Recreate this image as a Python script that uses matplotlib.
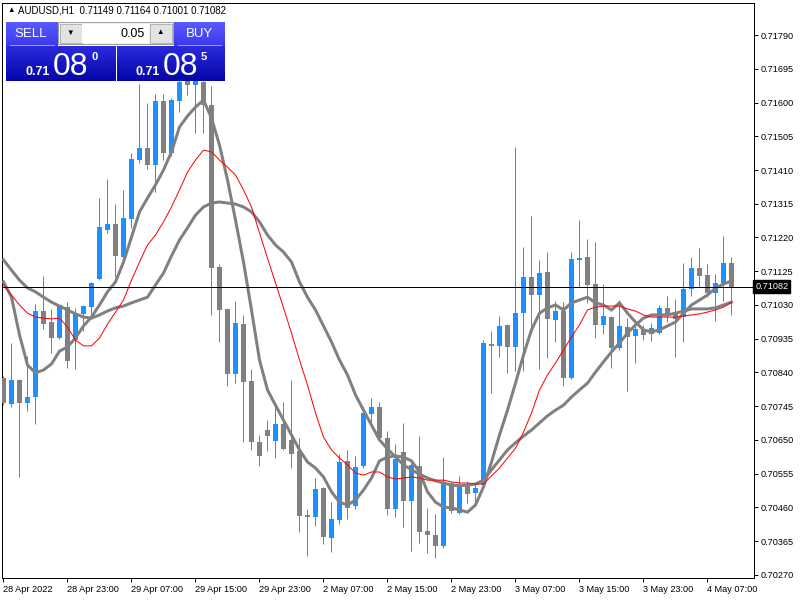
import numpy as np
import matplotlib
matplotlib.use('Agg')
import matplotlib.pyplot as plt
from matplotlib.patches import Rectangle

plt.rcParams['font.family'] = ['Liberation Sans', 'DejaVu Sans']

# AUDUSD H1 candles
opens = [0.70825, 0.70751, 0.70819, 0.70754, 0.70771, 0.71013, 0.70982, 0.70937, 0.71024, 0.70931,
         0.71005, 0.71024, 0.71103, 0.71241, 0.71258, 0.71165, 0.71272, 0.71438, 0.71472, 0.71424,
         0.71604, 0.71458, 0.71604, 0.71669, 0.71649, 0.71658, 0.71593, 0.71137, 0.71019, 0.70836,
         0.70976, 0.70816, 0.70644, 0.70678, 0.70647, 0.70695, 0.70650, 0.70619, 0.70439, 0.70433,
         0.70515, 0.70374, 0.70425, 0.70591, 0.70464, 0.70577, 0.70723, 0.70743, 0.70656, 0.70456,
         0.70616, 0.70478, 0.70577, 0.70394, 0.70383, 0.70352, 0.70529, 0.70445, 0.70521, 0.70501,
         0.70523, 0.70920, 0.70915, 0.70974, 0.70912, 0.71007, 0.71109, 0.71058, 0.71123, 0.70988,
         0.71013, 0.70825, 0.71157, 0.71165, 0.71089, 0.70974, 0.70996, 0.70909, 0.70968, 0.70943,
         0.70960, 0.70948, 0.70951, 0.71022, 0.71010, 0.70996, 0.71075, 0.71134, 0.71114, 0.71064,
         0.71092, 0.71149]
highs = [0.70830, 0.70923, 0.70821, 0.70886, 0.71033, 0.71112, 0.71019, 0.71031, 0.71038, 0.71022,
         0.71030, 0.71095, 0.71331, 0.71385, 0.71314, 0.71354, 0.71458, 0.71652, 0.71599, 0.71624,
         0.71624, 0.71613, 0.71691, 0.71691, 0.71686, 0.71686, 0.71646, 0.71145, 0.71019, 0.71041,
         0.71002, 0.70850, 0.70664, 0.70706, 0.70754, 0.70757, 0.70819, 0.70656, 0.70456, 0.70543,
         0.70518, 0.70475, 0.70611, 0.70622, 0.70605, 0.70743, 0.70768, 0.70757, 0.70675, 0.70639,
         0.70698, 0.70585, 0.70661, 0.70459, 0.70442, 0.70601, 0.70532, 0.70549, 0.70532, 0.70529,
         0.70931, 0.70957, 0.70999, 0.70976, 0.71475, 0.71193, 0.71281, 0.71157, 0.71179, 0.71041,
         0.71038, 0.71179, 0.71269, 0.71216, 0.71207, 0.71089, 0.70999, 0.71044, 0.70993, 0.70988,
         0.70974, 0.70979, 0.71030, 0.71055, 0.71047, 0.71148, 0.71165, 0.71190, 0.71145, 0.71117,
         0.71224, 0.71164]
lows = [0.70749, 0.70743, 0.70546, 0.70732, 0.70695, 0.70962, 0.70895, 0.70934, 0.70853, 0.70850,
        0.70957, 0.70996, 0.71100, 0.71233, 0.71109, 0.71157, 0.71247, 0.71430, 0.71413, 0.71348,
        0.71438, 0.71449, 0.71573, 0.71621, 0.71514, 0.71514, 0.71002, 0.70926, 0.70802, 0.70810,
        0.70644, 0.70622, 0.70577, 0.70619, 0.70599, 0.70622, 0.70571, 0.70391, 0.70323, 0.70408,
        0.70357, 0.70335, 0.70414, 0.70428, 0.70456, 0.70571, 0.70687, 0.70654, 0.70439, 0.70433,
        0.70405, 0.70338, 0.70360, 0.70332, 0.70318, 0.70346, 0.70445, 0.70442, 0.70473, 0.70467,
        0.70518, 0.70782, 0.70884, 0.70839, 0.70844, 0.70844, 0.70960, 0.70850, 0.70881, 0.70926,
        0.70802, 0.70823, 0.71081, 0.71036, 0.70937, 0.70948, 0.70853, 0.70903, 0.70788, 0.70867,
        0.70931, 0.70929, 0.70948, 0.70982, 0.70884, 0.70926, 0.71055, 0.71081, 0.71052, 0.70985,
        0.71041, 0.71001]
closes = [0.70754, 0.70819, 0.70754, 0.70771, 0.71013, 0.70976, 0.70937, 0.71030, 0.70872, 0.71007,
          0.71027, 0.71092, 0.71250, 0.71258, 0.71168, 0.71275, 0.71441, 0.71472, 0.71424, 0.71604,
          0.71458, 0.71607, 0.71658, 0.71649, 0.71660, 0.71593, 0.71134, 0.71016, 0.70836, 0.70979,
          0.70813, 0.70644, 0.70605, 0.70661, 0.70695, 0.70625, 0.70611, 0.70436, 0.70433, 0.70512,
          0.70377, 0.70428, 0.70588, 0.70459, 0.70574, 0.70726, 0.70743, 0.70656, 0.70456, 0.70597,
          0.70478, 0.70580, 0.70391, 0.70383, 0.70352, 0.70526, 0.70450, 0.70518, 0.70498, 0.70515,
          0.70923, 0.70915, 0.70971, 0.70912, 0.71007, 0.71109, 0.71058, 0.71120, 0.70991, 0.71013,
          0.70825, 0.71159, 0.71162, 0.71086, 0.70974, 0.70999, 0.70909, 0.70971, 0.70940, 0.70962,
          0.70946, 0.70965, 0.71022, 0.70999, 0.70991, 0.71075, 0.71134, 0.71112, 0.71064, 0.71092,
          0.71148, 0.71082]

# moving averages drawn on the chart (two thick grey, one thin red)
ma_fast = [0.71095, 0.71052, 0.70946, 0.70861, 0.70839, 0.70847, 0.70864, 0.70900, 0.70912, 0.70937,
           0.70971, 0.70996, 0.71030, 0.71067, 0.71095, 0.71151, 0.71221, 0.71292, 0.71331, 0.71368,
           0.71410, 0.71461, 0.71531, 0.71562, 0.71587, 0.71607, 0.71556, 0.71480, 0.71382, 0.71269,
           0.71151, 0.71016, 0.70875, 0.70791, 0.70748, 0.70706, 0.70664, 0.70622, 0.70588, 0.70571,
           0.70546, 0.70504, 0.70475, 0.70467, 0.70481, 0.70509, 0.70543, 0.70591, 0.70602, 0.70605,
           0.70602, 0.70591, 0.70560, 0.70504, 0.70475, 0.70461, 0.70459, 0.70453, 0.70447, 0.70467,
           0.70518, 0.70588, 0.70664, 0.70734, 0.70810, 0.70889, 0.70960, 0.71007, 0.71022, 0.71030,
           0.71016, 0.71036, 0.71044, 0.71052, 0.71036, 0.71030, 0.71016, 0.71036, 0.71007, 0.70982,
           0.70960, 0.70954, 0.70960, 0.70971, 0.70982, 0.71007, 0.71030, 0.71044, 0.71058, 0.71078,
           0.71089, 0.71098]
ma_slow = [0.71157, 0.71128, 0.71100, 0.71078, 0.71067, 0.71052, 0.71038, 0.71027, 0.71016, 0.71005,
           0.70996, 0.70993, 0.71002, 0.71013, 0.71022, 0.71027, 0.71036, 0.71044, 0.71052, 0.71086,
           0.71120, 0.71168, 0.71213, 0.71247, 0.71283, 0.71306, 0.71317, 0.71320, 0.71317, 0.71314,
           0.71306, 0.71292, 0.71264, 0.71227, 0.71199, 0.71179, 0.71151, 0.71095, 0.71052, 0.71016,
           0.70971, 0.70926, 0.70875, 0.70833, 0.70777, 0.70734, 0.70692, 0.70650, 0.70625, 0.70602,
           0.70580, 0.70566, 0.70554, 0.70543, 0.70535, 0.70529, 0.70523, 0.70521, 0.70523, 0.70526,
           0.70537, 0.70566, 0.70594, 0.70622, 0.70642, 0.70661, 0.70678, 0.70698, 0.70718, 0.70734,
           0.70748, 0.70771, 0.70791, 0.70810, 0.70841, 0.70870, 0.70898, 0.70923, 0.70951, 0.70974,
           0.70993, 0.71002, 0.71002, 0.71002, 0.71007, 0.71013, 0.71019, 0.71019, 0.71019, 0.71022,
           0.71030, 0.71038]
ma_red = [0.71086, 0.71058, 0.71030, 0.71007, 0.70996, 0.70993, 0.70991, 0.70993, 0.70968, 0.70931,
          0.70915, 0.70915, 0.70937, 0.70976, 0.71010, 0.71044, 0.71100, 0.71151, 0.71199, 0.71227,
          0.71264, 0.71306, 0.71354, 0.71404, 0.71438, 0.71466, 0.71461, 0.71438, 0.71418, 0.71396,
          0.71354, 0.71306, 0.71233, 0.71162, 0.71092, 0.71022, 0.70951, 0.70875, 0.70805, 0.70726,
          0.70658, 0.70622, 0.70599, 0.70580, 0.70557, 0.70551, 0.70560, 0.70560, 0.70546, 0.70540,
          0.70543, 0.70546, 0.70543, 0.70537, 0.70537, 0.70537, 0.70532, 0.70529, 0.70529, 0.70526,
          0.70526, 0.70549, 0.70571, 0.70599, 0.70627, 0.70672, 0.70726, 0.70791, 0.70833, 0.70867,
          0.70903, 0.70940, 0.70974, 0.71016, 0.71024, 0.71027, 0.71027, 0.71027, 0.71019, 0.71013,
          0.71002, 0.70996, 0.70996, 0.70996, 0.70996, 0.70999, 0.71002, 0.71005, 0.71010, 0.71016,
          0.71024, 0.71038]

last_price = 0.71082
bid_price = '0.71080'
ask_price = '0.71085'
lot = '0.05'
header = 'AUDUSD,H1  0.71149 0.71164 0.71001 0.71082'

price_ticks = [0.70270, 0.70365, 0.70460, 0.70555, 0.70650, 0.70745, 0.70840, 0.70935,
               0.71030, 0.71125, 0.71220, 0.71315, 0.71410, 0.71505, 0.71600, 0.71695, 0.71790]
time_pos = [0, 8, 16, 24, 32, 40, 48, 56, 64, 72, 80, 88]
time_labels = ['28 Apr 2022', '28 Apr 23:00', '29 Apr 07:00', '29 Apr 15:00', '29 Apr 23:00',
               '2 May 07:00', '2 May 15:00', '2 May 23:00', '3 May 07:00', '3 May 15:00',
               '3 May 23:00', '4 May 07:00']

BULL = '#1e90ff'
BEAR = '#808080'
PX = 0.72  # one pixel in points at 100 dpi

fig = plt.figure(figsize=(8, 6), dpi=100)
fig.patch.set_facecolor('white')
ax = fig.add_axes([2 / 800, 22 / 600, 752 / 800, 575 / 600])

o = np.array(opens)
c = np.array(closes)
x = np.arange(len(o))
cols = [BULL if cc > oo else BEAR for oo, cc in zip(o, c)]

ax.vlines(x, lows, highs, colors=cols, linewidth=PX, zorder=2)
body_low = np.minimum(o, c)
body_h = np.maximum(np.abs(c - o), 0.000025)
ax.bar(x, body_h, bottom=body_low, width=0.625, color=cols, linewidth=0, zorder=3)

ax.plot(x, ma_slow, color=BEAR, lw=3 * PX, zorder=4, solid_joinstyle='miter')
ax.plot(x, ma_fast, color=BEAR, lw=3 * PX, zorder=4, solid_joinstyle='miter')
ax.plot(x, ma_red, color='red', lw=PX, zorder=5)

ax.axhline(last_price, color='black', lw=PX, zorder=6)

ax.set_xlim(-0.1875, 93.8125)
ax.set_ylim(0.702615, 0.718801)

for s in ax.spines.values():
    s.set_color('black')
    s.set_linewidth(PX)

ax.yaxis.tick_right()
ax.set_yticks(price_ticks)
ax.set_yticklabels(['%.5f' % p for p in price_ticks])
ax.tick_params(axis='y', direction='out', length=3, width=PX, pad=2,
               labelsize=6.6, colors='black')
ax.set_xticks(time_pos)
ax.set_xticklabels(time_labels, ha='left')
ax.tick_params(axis='x', direction='out', length=3, width=PX, pad=2,
               labelsize=6.6, colors='black')

ax.text(1.0015, last_price, '%.5f' % last_price, transform=ax.get_yaxis_transform(),
        ha='left', va='center', fontsize=6.6, color='white', zorder=10,
        bbox=dict(boxstyle='square,pad=0.2', fc='black', ec='black'), clip_on=False)

# one-click trading panel and header, in pixel coordinates
pan = fig.add_axes([0, 0, 1, 1])
pan.set_xlim(0, 800)
pan.set_ylim(600, 0)
pan.axis('off')


def grad_box(x0, y0, w, h, top, bottom):
    t = np.array(matplotlib.colors.to_rgb(top))
    b = np.array(matplotlib.colors.to_rgb(bottom))
    f = np.linspace(0, 1, 32)[:, None, None]
    img = t * (1 - f) + b * f
    pan.imshow(img, extent=(x0, x0 + w, y0 + h, y0), origin='upper',
               aspect='auto', interpolation='bilinear', zorder=20)


grad_box(6, 22, 52, 24, '#5a5aff', '#3a3aee')
grad_box(174, 22, 51, 24, '#5a5aff', '#3a3aee')
grad_box(6, 46, 110, 35, '#2b2bdc', '#0505aa')
grad_box(117, 46, 108, 35, '#2b2bdc', '#0505aa')
pan.plot([10, 54], [44.5, 44.5], color='#9a9aff', lw=PX, zorder=21)
pan.plot([178, 221], [44.5, 44.5], color='#9a9aff', lw=PX, zorder=21)

pan.add_patch(Rectangle((58, 22), 115, 22, fc='#f0f0f0', ec='#a0a0a0', lw=PX, zorder=20))
pan.add_patch(Rectangle((59.5, 23.5), 22, 19, fc='#e3e3e3', ec='#b4b4b4', lw=PX, zorder=21))
pan.add_patch(Rectangle((149.5, 23.5), 22, 19, fc='#e3e3e3', ec='#b4b4b4', lw=PX, zorder=21))
pan.add_patch(Rectangle((82, 23.5), 67, 19, fc='white', ec='none', zorder=21))
pan.text(70.5, 33.5, '\u25bc', fontsize=5.5, ha='center', va='center', color='black', zorder=22)
pan.text(160.5, 33, '\u25b2', fontsize=5.5, ha='center', va='center', color='black', zorder=22)
pan.text(145, 34, lot, fontsize=9, ha='right', va='center', color='black', zorder=22)

pan.text(31, 34, 'SELL', fontsize=9.5, ha='center', va='center', color='white', zorder=22)
pan.text(199, 34, 'BUY', fontsize=9.5, ha='center', va='center', color='white', zorder=22)


def quote(x0, s):
    pan.text(x0, 75, s[:4], fontsize=9, fontweight='bold', color='white',
             ha='left', va='baseline', zorder=22)
    pan.text(x0 + 27, 75, s[4:6], fontsize=23, color='white',
             ha='left', va='baseline', zorder=22)
    pan.text(x0 + 65, 60, s[6], fontsize=8, fontweight='bold', color='white',
             ha='left', va='baseline', zorder=22)


quote(26, bid_price)
quote(136, ask_price)

pan.text(7, 10.5, '\u25b2', fontsize=5.5, ha='left', va='center', color='black', zorder=22)
pan.text(18, 10.5, header, fontsize=7, ha='left', va='center', color='black', zorder=22)

fig.savefig('out.png', dpi=100, facecolor='white')
